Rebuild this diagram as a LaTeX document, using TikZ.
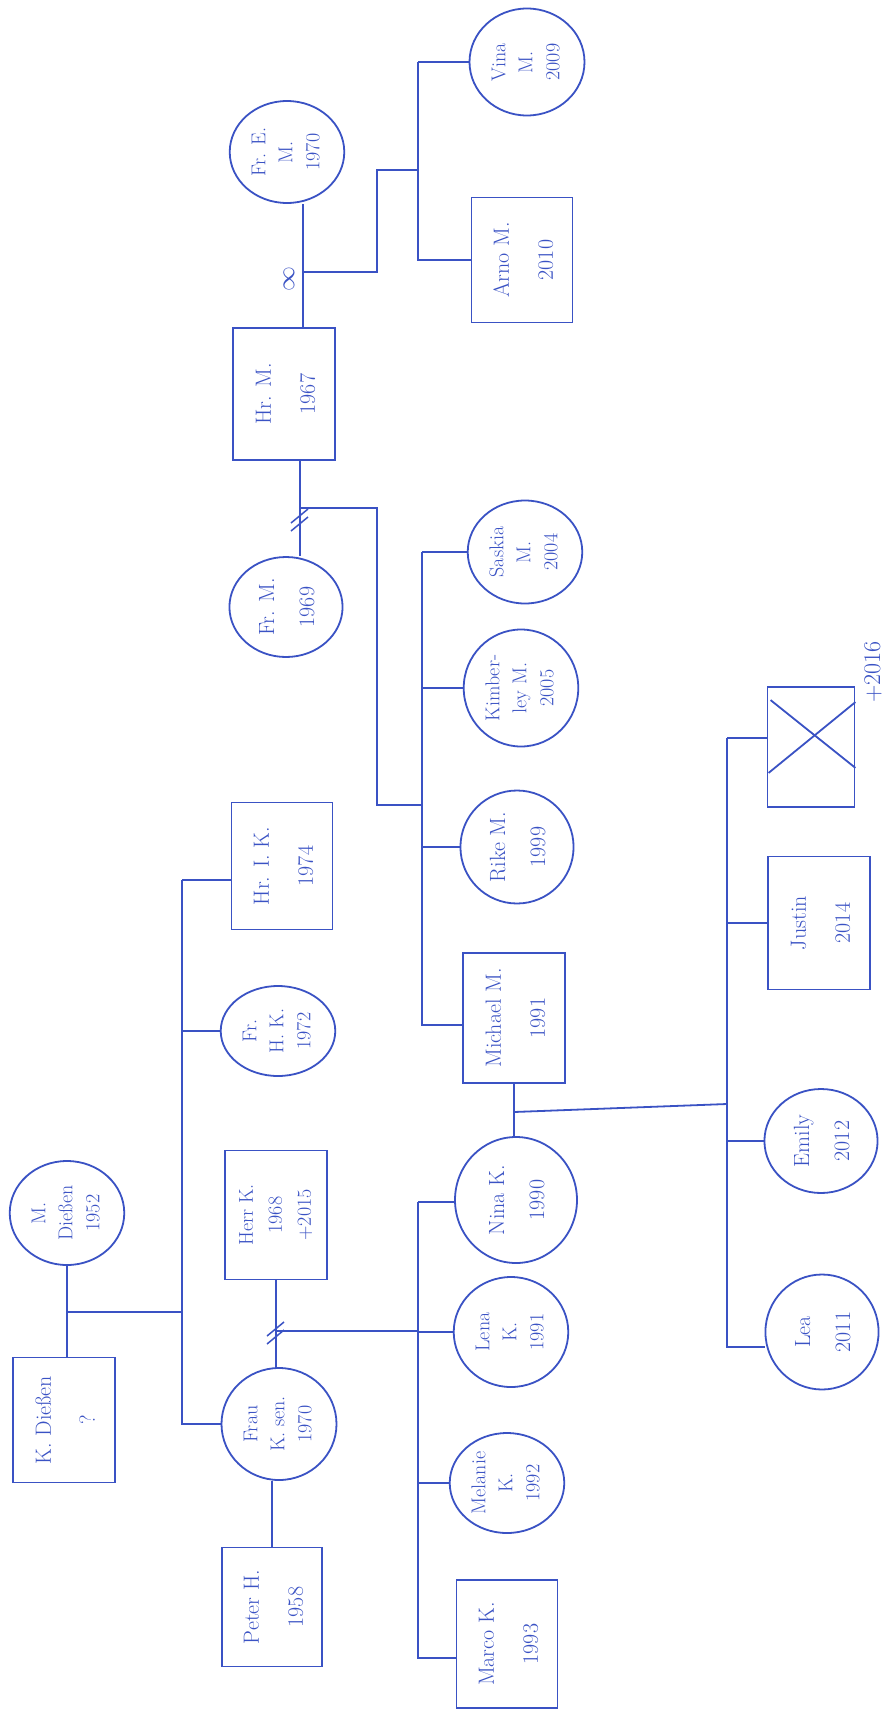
\documentclass[tikz,border=0pt]{standalone}
\usepackage{fontspec}
\usepackage{graphicx}
\usetikzlibrary{shapes.geometric,calc}
\definecolor{ink}{RGB}{58,82,196}
\newcommand{\rtext}[1]{\rotatebox{90}{\begin{tabular}{@{}c@{}}#1\end{tabular}}}
\newcommand{\divmark}[1]{%
  \draw[line width=1.5pt] ($(#1)+(-9,5)$) -- ($(#1)+(8,-9)$);
  \draw[line width=1.5pt] ($(#1)+(-9,13)$) -- ($(#1)+(8,-1)$);}
\begin{document}
\begin{tikzpicture}[x=1pt,y=-1pt,color=ink,line width=1.8pt,
  pbox/.style={draw,rectangle,inner sep=0pt,font=\fontsize{22}{44}\selectfont},
  pcirc/.style={draw,ellipse,inner sep=0pt,font=\fontsize{20}{27}\selectfont},
  twoline/.style={font=\fontsize{22}{40}\selectfont},
  sz/.style 2 args={minimum width=#1pt,minimum height=#2pt},
  lbl/.style={inner sep=0pt,rotate=90,font=\fontsize{24}{24}\selectfont}]
\fill[white] (0,0) rectangle (886,1713);
\useasboundingbox (0,0) rectangle (886,1713);

% ---- persons ----
\node[pbox,sz={102}{125}] (kd) at (64,1420) {\rtext{K. Dießen\\?}};
\node[pcirc,sz={114}{104}] (md) at (67,1213) {\rtext{M.\\Dießen\\1952}};
\node[pcirc,sz={115}{112}] (frauk) at (279,1424) {\rtext{Frau\\K. sen.\\1970}};
\node[pbox,sz={100}{119}] (peter) at (272,1607) {\rtext{Peter H.\\1958}};
\node[pbox,sz={102}{129},font=\fontsize{20}{29}\selectfont] (herrk) at (276,1215) {\rtext{Herr K.\\1968\\+2015}};
\node[pcirc,sz={100}{90}] (frhk) at (278,1031) {\rtext{Fr.\\H. K.\\1972}};
\node[pbox,sz={101}{127}] (hri) at (282,866) {\rtext{Hr. I. K.\\1974}};
\node[pbox,sz={102}{132}] (hrm) at (284,394) {\rtext{Hr. M.\\1967}};
\node[pcirc,sz={108}{102}] (fre) at (287,152) {\rtext{Fr. E.\\M.\\1970}};
\node[pcirc,sz={115}{107}] (vina) at (527,62) {\rtext{Vina\\M.\\2009}};
\node[pbox,sz={101}{125}] (arno) at (522,260) {\rtext{Arno M.\\2010}};
\node[pcirc,twoline,sz={112}{100}] (frm) at (286,607) {\rtext{Fr. M.\\1969}};
\node[pcirc,sz={114}{103}] (saskia) at (525,552) {\rtext{Saskia\\M.\\2004}};
\node[pcirc,sz={108}{117}] (kim) at (521,688) {\rtext{Kimber-\\ley M.\\2005}};
\node[pcirc,twoline,sz={111}{113}] (rike) at (517,847) {\rtext{Rike M.\\1999}};
\node[pbox,sz={102}{130}] (michael) at (514,1018) {\rtext{Michael M.\\1991}};
\node[pcirc,twoline,sz={122}{126}] (nina) at (516,1200) {\rtext{Nina K.\\1990}};
\node[pcirc,sz={112}{110}] (lena) at (511,1332) {\rtext{Lena\\K.\\1991}};
\node[pcirc,sz={113}{100}] (melanie) at (507,1483) {\rtext{Melanie\\K.\\1992}};
\node[pbox,sz={101}{128}] (marco) at (507,1644) {\rtext{Marco K.\\1993}};
\node[pbox,sz={87}{120}] (xbox) at (811,747) {};
\draw ($(xbox.north west)+(4,14)$) -- ($(xbox.south east)+(0,-40)$);
\draw ($(xbox.south west)+(2,-35)$) -- ($(xbox.north east)+(0,16)$);
\node[lbl] (died) at (873,672) {+2016};
\node[pbox,sz={102}{133}] (justin) at (819,923) {\rtext{Justin\\2014}};
\node[pcirc,twoline,sz={103}{104}] (emily) at (821,1141) {\rtext{Emily\\2012}};
\node[pcirc,twoline,sz={110}{115}] (lea) at (822,1332) {\rtext{Lea\\2011}};

% ---- Dießen family ----
\draw (md.south) -- (md.south |- kd.north);
\coordinate (gA) at (182,880);
\draw (md.south |- 0,1312) -- (gA |- 0,1312);
\draw (gA) -- (gA |- frauk.west) -- (frauk.west);
\draw (gA) -- (gA -| hri.west);
\draw (gA |- frhk.west) -- (frhk.west);

% ---- Herr K. -- Frau K. sen. ----
\draw (herrk.south) -- (herrk.south |- frauk.north);
\coordinate (dv1) at (herrk.south |- 0,1331);
\divmark{dv1}
\coordinate (gB) at (418,1202);
\draw (dv1) -- (gB |- dv1);
\draw (gB) -- (gB -| nina.west);
\draw (gB) -- (gB |- 0,1658) -- (marco.west |- 0,1658);
\draw (gB |- lena.west) -- (lena.west);
\draw (gB |- melanie.west) -- (melanie.west);
\draw (peter.north) -- (peter.north |- frauk.south);

% ---- Michael M. -- Nina K. ----
\draw (michael.south) -- (michael.south |- nina.north);
\coordinate (mn) at (michael.south |- 0,1112);
\coordinate (gC) at (727,738);
\draw (mn) -- (gC |- 0,1104);
\draw (gC) -- (gC |- 0,1347) -- (lea.west |- 0,1347);
\draw (gC) -- (gC -| xbox.west);
\draw (gC |- justin.west) -- (justin.west);
\draw (gC |- emily.west) -- (emily.west);

% ---- Hr. M. -- Fr. E. M. ----
\coordinate (fa) at ($(hrm.north)+(19,0)$);
\draw (fa) -- (fa |- fre.south);
\node[lbl,font=\fontsize{28}{28}\selectfont] (inf) at (289,279) {$\infty$};
\coordinate (mj) at (fa |- 0,272);
\coordinate (gD) at (418,0 |- vina.west);
\draw (mj) -- (377,272) -- (377,170) -- (gD |- 0,170);
\draw (gD) -- (gD |- arno.west) -- (arno.west);
\draw (gD) -- (vina.west);

% ---- Hr. M. -- Fr. M. ----
\coordinate (fb) at ($(hrm.south)+(16,0)$);
\draw (fb) -- (fb |- frm.north);
\coordinate (dv2) at (fb |- 0,518);
\divmark{dv2}
\coordinate (gE) at (422,0 |- saskia.west);
\draw (fb |- 0,508) -- (377,508) -- (377,805) -- (gE |- 0,805);
\draw (gE) -- (saskia.west);
\draw (gE) -- (gE |- 0,1025) -- (michael.west |- 0,1025);
\draw (gE |- kim.west) -- (kim.west);
\draw (gE |- rike.west) -- (rike.west);
\end{tikzpicture}
\end{document}
